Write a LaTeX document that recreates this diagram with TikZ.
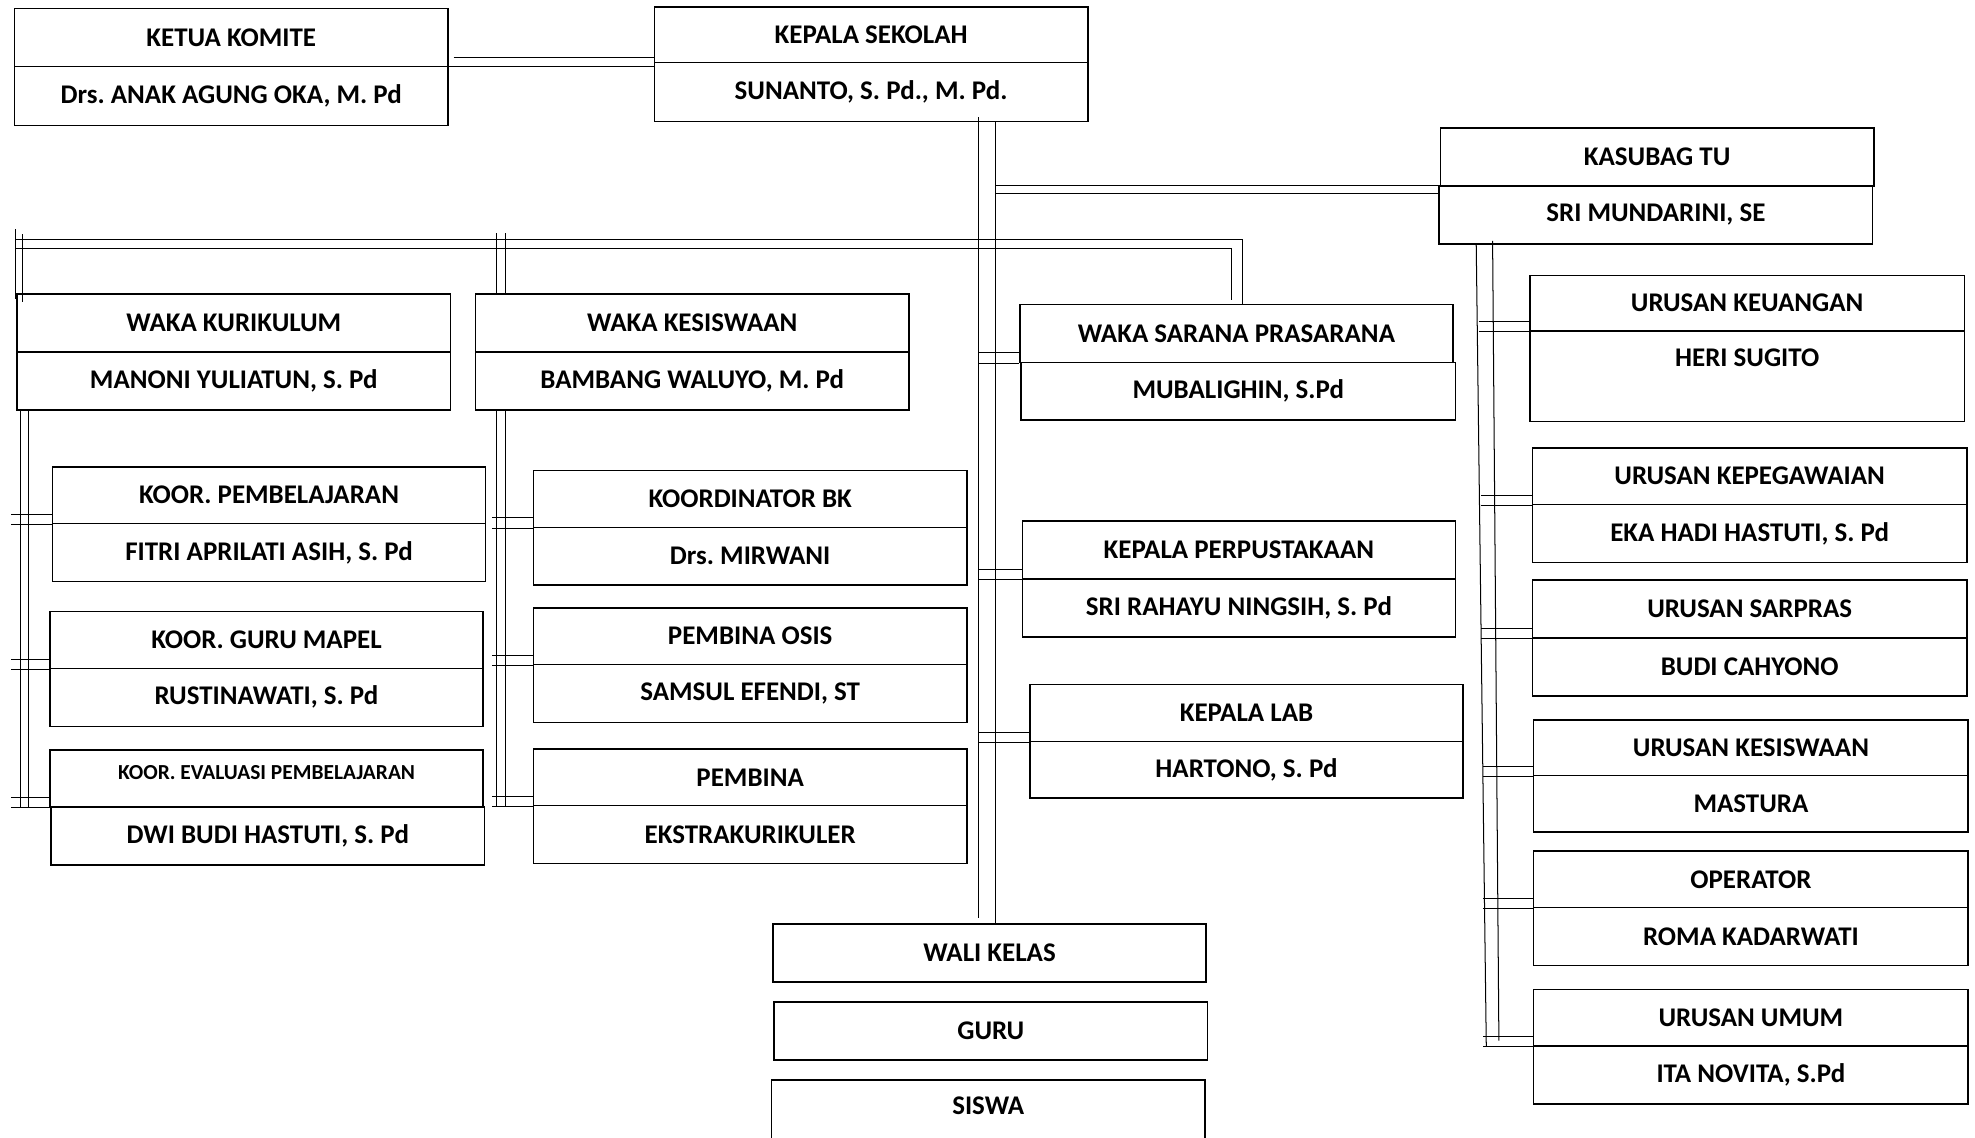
\documentclass[tikz,border=0pt]{standalone}
\usepackage{fontspec}
\setmainfont{Carlito}
\frenchspacing
\usetikzlibrary{calc}

\tikzset{
    box/.style={draw, line width=1.2pt, anchor=north west, minimum width=344pt,
        minimum height=46pt, inner sep=0pt, font=\bfseries\fontsize{21.4}{25}\selectfont},
    link/.style={line width=0.8pt}
}

\begin{document}
\begin{tikzpicture}[x=1pt, y=-1pt]
    \useasboundingbox (0,0) rectangle (1568,902.7);
    % komite, kepala sekolah, tata usaha
    \node[box] (KOM) at (11,6) {KETUA KOMITE};
    \node[box, minimum height=47pt] (KOMn) at (11,52) {Drs. ANAK AGUNG OKA, M. Pd};
    \node[box, minimum height=44pt] (KS) at (519,5) {KEPALA SEKOLAH};
    \node[box, minimum height=47pt] (KSn) at (519,49) {SUNANTO, S. Pd., M. Pd.};
    \node[box] (TU) at (1143,101) {KASUBAG TU};
    \node[box] (TUn) at (1142,147) {SRI MUNDARINI, SE};
    % wakil kepala sekolah
    \node[box] (WKK) at (13,233) {WAKA KURIKULUM};
    \node[box] (WKKn) at (13,279) {MANONI YULIATUN, S. Pd};
    \node[box] (WKS) at (377,233) {WAKA KESISWAAN};
    \node[box] (WKSn) at (377,279) {BAMBANG WALUYO, M. Pd};
    \node[box] (WSP) at (809,241) {WAKA SARANA PRASARANA};
    \node[box, minimum width=345pt] (WSPn) at (810,287) {MUBALIGHIN, S.Pd};
    % bawah kurikulum
    \node[box, minimum height=45pt] (KP) at (41,370) {KOOR. PEMBELAJARAN};
    \node[box] (KPn) at (41,415) {FITRI APRILATI ASIH, S. Pd};
    \node[box, minimum height=45pt] (KGM) at (39,485) {KOOR. GURU MAPEL};
    \node[box] (KGMn) at (39,530) {RUSTINAWATI, S. Pd};
    \node[box, minimum height=45pt, text depth=9pt, font=\bfseries\fontsize{17}{20}\selectfont] (KEP) at (39,595) {KOOR. EVALUASI PEMBELAJARAN};
    \node[box] (KEPn) at (40,640) {DWI BUDI HASTUTI, S. Pd};
    % bawah kesiswaan
    \node[box, minimum height=45pt] (KBK) at (423,373) {KOORDINATOR BK};
    \node[box] (KBKn) at (423,418) {Drs. MIRWANI};
    \node[box, minimum height=45pt] (POS) at (423,482) {PEMBINA OSIS};
    \node[box] (POSn) at (423,527) {SAMSUL EFENDI, ST};
    \node[box, minimum height=45pt] (PEK) at (423,594) {PEMBINA};
    \node[box] (PEKn) at (423,639) {EKSTRAKURIKULER};
    % bawah kepala sekolah
    \node[box] (KPP) at (811,413) {KEPALA PERPUSTAKAAN};
    \node[box] (KPPn) at (811,459) {SRI RAHAYU NINGSIH, S. Pd};
    \node[box, minimum height=45pt] (KL) at (817,543) {KEPALA LAB};
    \node[box, minimum height=45pt] (KLn) at (817,588) {HARTONO, S. Pd};
    \node[box] (WK) at (613,733) {WALI KELAS};
    \node[box] (GR) at (614,795) {GURU};
    \node[box, minimum height=52pt, text depth=11pt] (SW) at (612,857) {SISWA};
    % urusan tata usaha
    \node[box, minimum width=345pt, minimum height=44pt] (UK) at (1214,218) {URUSAN KEUANGAN};
    \node[box, minimum width=345pt, minimum height=72pt, text depth=30pt] (UKn) at (1214,262) {HERI SUGITO};
    \node[box, minimum width=345pt, minimum height=45pt] (UP) at (1216,355) {URUSAN KEPEGAWAIAN};
    \node[box, minimum width=345pt] (UPn) at (1216,400) {EKA HADI HASTUTI, S. Pd};
    \node[box, minimum width=345pt] (US) at (1216,460) {URUSAN SARPRAS};
    \node[box, minimum width=345pt] (USn) at (1216,506) {BUDI CAHYONO};
    \node[box, minimum width=345pt, minimum height=44pt] (UKS) at (1217,571) {URUSAN KESISWAAN};
    \node[box, minimum width=345pt, minimum height=45pt] (UKSn) at (1217,615) {MASTURA};
    \node[box, minimum width=345pt, minimum height=45pt] (OP) at (1217,675) {OPERATOR};
    \node[box, minimum width=345pt] (OPn) at (1217,720) {ROMA KADARWATI};
    \node[box, minimum width=345pt, minimum height=45pt] (UU) at (1217,785) {URUSAN UMUM};
    \node[box, minimum width=345pt] (UUn) at (1217,830) {ITA NOVITA, S.Pd};

    % komite -- kepala sekolah
    \draw[link] ($(KOMn.north east)+(4,-6)$) -- ($(KOMn.north east -| KS.west)+(0,-6)$);
    \draw[link] ($(KOMn.north east)+(0,1)$) -- ($(KOMn.north east -| KS.west)+(0,1)$);
    % garis kepala sekolah ke wali kelas
    \coordinate (KSa) at ($(KSn.south)+(85,-4)$);
    \coordinate (KSb) at ($(KSn.south)+(99,0)$);
    \draw[link] (KSa) -- ($(KSa |- WK.north)+(0,-4)$);
    \draw[link] (KSb) -- (KSb |- WK.north);
    % kepala sekolah -- kasubag tu
    \draw[link] (KSb |- TUn.north west) -- (TUn.north west);
    \draw[link] ($(KSb |- TUn.north west)+(0,7)$) -- ($(TUn.north west)+(0,7)$);
    % garis wakil kepala
    \coordinate (BUSa) at (12,190);
    \coordinate (BUSb) at (12,197);
    \coordinate (SPa) at ($(WSP.north)+(5,0)$);
    \coordinate (SPb) at ($(WSP.north)+(-4,-3)$);
    \draw[link] (BUSa) -- (BUSa -| SPa) -- (SPa);
    \draw[link] (BUSb) -- (BUSb -| SPb) -- (SPb);
    \draw[link] ($(BUSa)+(0,-8)$) -- ($(BUSa |- WKK.north)+(0,4)$);
    \draw[link] ($(BUSa)+(6,-4)$) -- ($(BUSa |- WKK.north)+(6,7)$);
    \coordinate (KESa) at ($(WKSn.south west)+(17,0)$);
    \coordinate (KESb) at ($(WKSn.south west)+(24,0)$);
    \draw[link] ($(BUSa -| KESa)+(0,-5)$) -- (KESa |- WKS.north);
    \draw[link] ($(BUSa -| KESb)+(0,-5)$) -- (KESb |- WKS.north);
    % garis kurikulum
    \coordinate (KURa) at ($(WKKn.south west)+(3,0)$);
    \coordinate (KURb) at ($(WKKn.south west)+(10,0)$);
    \draw[link] (KURa) -- (KURa |- KEP.south);
    \draw[link] (KURb) -- (KURb |- KEP.south);
    \foreach \n in {KP,KGM,KEP} {
        \draw[link] (\n.south west) -- ($(\n.south west -| KURa)+(-7,0)$);
        \draw[link] ($(\n.south west)+(0,-8)$) -- ($(\n.south west -| KURa)+(-7,-8)$);
    }
    % garis kesiswaan
    \draw[link] (KESa) -- (KESa |- PEK.south);
    \draw[link] (KESb) -- (KESb |- PEK.south);
    \foreach \n in {KBK,POS,PEK} {
        \draw[link] (\n.south west) -- ($(\n.south west -| KESa)+(-3,0)$);
        \draw[link] ($(\n.south west)+(0,-8)$) -- ($(\n.south west -| KESa)+(-3,-8)$);
    }
    % cabang kepala sekolah
    \foreach \n in {WSP,KPP,KL} {
        \draw[link] (\n.south west) -- (\n.south west -| KSa);
        \draw[link] ($(\n.south west)+(0,-8)$) -- ($(\n.south west -| KSa)+(0,-8)$);
    }
    % garis tata usaha
    \coordinate (TUa) at ($(TUn.south west)+(30,0)$);
    \coordinate (TUb) at ($(TUn.south west)+(43,-3)$);
    \draw[link] (TUa) -- ($(UU.south west)+(-37,0)$);
    \draw[link] (TUb) -- ($(UU.south west)+(-27,-5)$);
    \foreach \n in {UK,UP,US,UKS,OP,UU} {
        \draw[link] (\n.south west) -- ($(\n.south west)+(-40,0)$);
        \draw[link] ($(\n.south west)+(0,-8)$) -- ($(\n.south west)+(-40,-8)$);
    }
\end{tikzpicture}
\end{document}
